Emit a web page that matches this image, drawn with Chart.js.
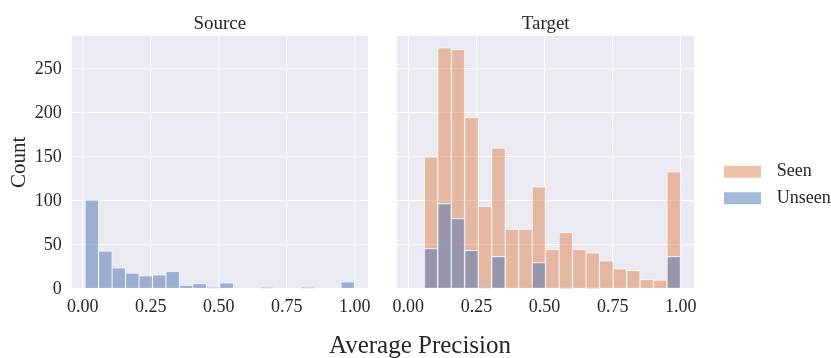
<!DOCTYPE html>
<html>
<head>
<meta charset="utf-8">
<script src="https://cdn.jsdelivr.net/npm/chart.js@4.4.1/dist/chart.umd.min.js"></script>
<style>
html,body{margin:0;padding:0;background:#ffffff;overflow:hidden;width:831px;height:358px;}
#wrap{position:relative;width:831px;height:358px;overflow:hidden;}
canvas{position:absolute;top:0;}
#left{left:0;}
#right{left:380px;}
#xlabel{position:absolute;left:0;width:840px;text-align:center;top:332px;font-family:"Liberation Serif","DejaVu Serif",serif;font-size:25px;line-height:25px;color:#262626;white-space:nowrap;}
</style>
</head>
<body>
<div id="wrap">
<canvas id="left" width="380" height="320"></canvas>
<canvas id="right" width="461" height="370"></canvas>
<div id="xlabel">Average Precision</div>
</div>
<script>
// ---- data ----
const binCenters = [0.0338, 0.0833, 0.1328, 0.1823, 0.2318, 0.2813, 0.3308, 0.3803, 0.4298, 0.4793,
                    0.5288, 0.5783, 0.6278, 0.6773, 0.7268, 0.7763, 0.8258, 0.8753, 0.9248, 0.9743];
const sourceUnseen = [101, 43, 24, 18, 15, 16, 20, 4, 6, 2, 7, 0, 0, 2, 0, 0, 2, 0, 0, 8];
const targetSeen   = [0, 150, 274, 272, 195, 94, 160, 68, 68, 116, 45, 64, 45, 41, 32, 23, 21, 11, 10, 133];
const targetUnseen = [0, 46, 97, 80, 44, 2, 37, 0, 0, 30, 0, 1, 0, 1, 0, 0, 0, 0, 0, 37];
const xTickValues = [0, 0.25, 0.5, 0.75, 1.0];
const yTickValues = [0, 50, 100, 150, 200, 250];
const panelTitles = ['Source', 'Target'];
const seriesNames = ['Seen', 'Unseen'];
const yAxisTitle = 'Count';

// ---- styles ----
const FONT = '"Liberation Serif", "DejaVu Serif", serif';
const TEXT = '#262626';
const SEEN_COLOR = 'rgba(221,132,82,0.5)';
const UNSEEN_COLOR = 'rgba(76,114,176,0.5)';
const X_MIN = -0.0405, X_MAX = 1.0485, Y_MAX = 287.7;
const AREA_BOTTOM = 289;

Chart.defaults.font.family = FONT;
Chart.defaults.color = TEXT;

const bgPlugin = {
  id: 'panelBg',
  beforeDraw(chart) {
    const {ctx, chartArea: a} = chart;
    ctx.save();
    ctx.fillStyle = '#EAEAF2';
    ctx.fillRect(a.left, a.top, a.right - a.left, a.bottom - a.top);
    ctx.restore();
  }
};

function toPoints(vals) { return binCenters.map((c, i) => ({x: c, y: vals[i]})); }

function barDataset(label, vals, color) {
  return {
    label, data: toPoints(vals), backgroundColor: color,
    borderColor: '#ffffff', borderWidth: 0.7, borderSkipped: false,
    barPercentage: 1, categoryPercentage: 1, grouped: false, yAxisID: 'y'
  };
}

function xScale(canvasH) {
  return {
    type: 'linear', min: X_MIN, max: X_MAX, offset: false,
    grid: {color: '#ffffff', lineWidth: 1.1, drawTicks: false, offset: false},
    border: {display: false},
    afterBuildTicks: s => { s.ticks = xTickValues.map(v => ({value: v})); },
    afterFit: s => { s.height = canvasH - AREA_BOTTOM; },
    ticks: {padding: 7, color: TEXT, font: {family: FONT, size: 18}, maxRotation: 0, autoSkip: false,
            callback: v => Number(v).toFixed(2)}
  };
}

function yScale(showLabels, width) {
  const s = {
    type: 'linear', min: 0, max: Y_MAX,
    grid: {color: '#ffffff', lineWidth: 1.1, drawTicks: false},
    border: {display: false},
    afterBuildTicks: sc => { sc.ticks = yTickValues.map(v => ({value: v})); },
    afterFit: sc => { sc.width = width; },
    ticks: {display: showLabels, padding: 10, color: TEXT, font: {family: FONT, size: 18}}
  };
  if (showLabels) {
    s.title = {display: true, text: yAxisTitle, color: TEXT, font: {family: FONT, size: 21}, padding: {top: 7, bottom: 0}};
  }
  return s;
}

function titleOpts(text) {
  return {display: true, text, fullSize: false, color: TEXT, font: {family: FONT, size: 19, weight: 'normal'},
          padding: {top: 13, bottom: 0}};
}

// ---- left panel: Source ----
new Chart(document.getElementById('left'), {
  type: 'bar',
  data: {datasets: [barDataset(seriesNames[1], sourceUnseen, UNSEEN_COLOR)]},
  options: {
    responsive: false, animation: false, devicePixelRatio: 1,
    layout: {padding: {left: 0, right: 12, top: 0, bottom: 0}},
    scales: {x: xScale(320), y: yScale(true, 71.7)},
    plugins: {legend: {display: false}, tooltip: {enabled: false}, title: titleOpts(panelTitles[0])}
  },
  plugins: [bgPlugin]
});

// ---- right panel: Target (with legend) ----
const mctx = document.createElement('canvas').getContext('2d');
mctx.font = '18px ' + FONT;
const textW = Math.max(...seriesNames.map(n => mctx.measureText(n).width));
const LEG_BOX_W = 50.4, LEG_BOX_H = 25.4, LEG_STROKE = 13.4, LEG_PAD = 1.2, GAP_AXIS = 22.1;
const legendW = LEG_PAD + (LEG_BOX_W + 9 + textW) + 10;
const totalW = (694 - 380) + GAP_AXIS + legendW;
const rightCanvas = document.getElementById('right');
const rightW = Math.ceil(totalW);
rightCanvas.width = rightW;

new Chart(rightCanvas, {
  type: 'bar',
  data: {datasets: [
    barDataset(seriesNames[1], targetUnseen, UNSEEN_COLOR),
    barDataset(seriesNames[0], targetSeen, SEEN_COLOR)
  ]},
  options: {
    responsive: false, animation: false, devicePixelRatio: 1,
    layout: {padding: {left: 0, right: rightW - totalW, top: 0, bottom: 0}},
    scales: {
      x: xScale(370),
      y: yScale(false, 17.3),
      yr: {type: 'linear', position: 'right', display: true, grid: {display: false},
           border: {display: false}, ticks: {display: false}, afterFit: s => { s.width = GAP_AXIS; }}
    },
    plugins: {
      tooltip: {enabled: false},
      title: titleOpts(panelTitles[1]),
      legend: {
        display: true, position: 'right', reverse: true, maxWidth: 400,
        labels: {
          boxWidth: LEG_BOX_W, boxHeight: LEG_BOX_H, padding: LEG_PAD, color: TEXT,
          font: {family: FONT, size: 18},
          generateLabels: chart => Chart.defaults.plugins.legend.labels.generateLabels(chart)
            .map(it => Object.assign(it, {lineWidth: LEG_STROKE, strokeStyle: '#ffffff'}))
        }
      }
    }
  },
  plugins: [bgPlugin]
});
</script>
</body>
</html>
